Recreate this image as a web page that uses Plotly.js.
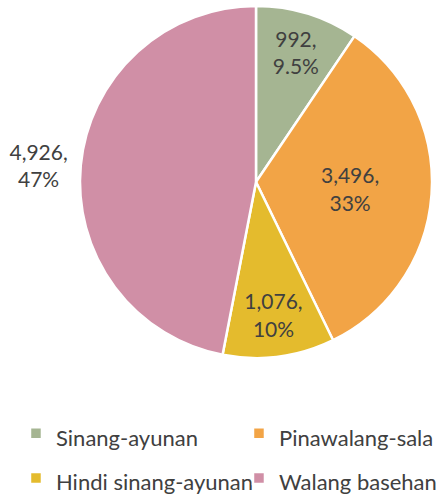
<!DOCTYPE html>
<html><head><meta charset="utf-8">
<script src="https://cdn.plot.ly/plotly-3.0.1.min.js"></script>
<style>html,body{margin:0;padding:0;background:#fff}</style>
</head><body><div id="chart" style="width:444px;height:497px"></div>
<script>
const categories = ['Sinang-ayunan','Pinawalang-sala','Hindi sinang-ayunan','Walang basehan'];
const values = [992, 3496, 1076, 4926];
const pctLabels = ['9.5%','33%','10%','47%'];
const colors = ['#a5b592','#f2a446','#e4bb2d','#d08fa6'];

const trace = {
  type:'pie', labels: categories.map(c=>'<span style="font-size:22px">'+c+'</span>'),
  values: values, text: pctLabels,
  texttemplate: '%{value:,},<br>%{text}',
  textposition: ['inside','inside','inside','outside'],
  insidetextorientation:'horizontal',
  sort:false, direction:'clockwise', rotation:0,
  marker:{colors:colors, line:{color:'#ffffff', width:2.5}},
  textfont:{family:'Lato, "Noto Sans", sans-serif', size:21, color:'#404040'},
  outsidetextfont:{family:'Lato, "Noto Sans", sans-serif', size:21, color:'#404040'},
  hoverinfo:'label+value',
  domain:{x:[80/444, 432/444], y:[1-358/497, 1-6/497]}
};
const layout = {
  width:444, height:497, margin:{l:0,r:0,t:0,b:0, autoexpand:false},
  paper_bgcolor:'#fff', showlegend:true,
  legend:{orientation:'h', x:0.036, xanchor:'left', y:1-406/497, yanchor:'top',
    font:{family:'Lato, "Noto Sans", sans-serif', size:32, color:'#404040'},
    entrywidth:178, traceorder:'normal'}
};
Plotly.newPlot('chart',[trace],layout,{displayModeBar:false, staticPlot:true});
</script></body></html>
